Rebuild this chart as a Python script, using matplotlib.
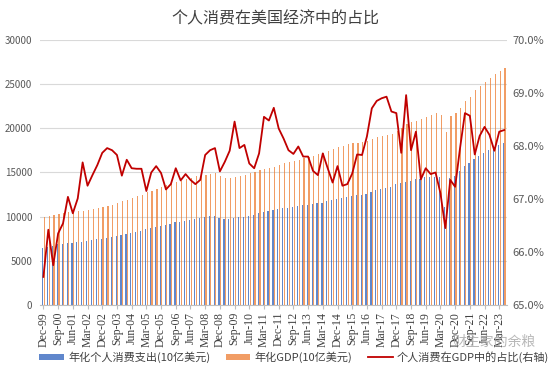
# -*- coding: utf-8 -*-
from matplotlib import pyplot as plt
from matplotlib.ticker import FuncFormatter
import numpy as np

plt.rcParams['font.family'] = ['Noto Sans CJK SC', 'DejaVu Sans']

# quarterly, Dec-99 .. Jun-23
start_year = 1999
months = ["Mar", "Jun", "Sep", "Dec"]

pce = [6420, 6560, 6680, 6870, 6930, 6980, 7020, 7090, 7170, 7240,
       7310, 7440, 7500, 7590, 7660, 7800, 7925, 8030, 8140, 8260,
       8400, 8570, 8680, 8860, 8980, 9070, 9170, 9360, 9440, 9540,
       9660, 9780, 9880, 9960, 10075, 10075, 9810, 9700, 9710, 9880,
       9930, 10000, 10080, 10200, 10380, 10530, 10620, 10750, 10830, 10940,
       11030, 11090, 11200, 11270, 11350, 11430, 11530, 11580, 11770, 11880,
       12030, 12100, 12260, 12350, 12420, 12450, 12620, 12760, 13020, 13150,
       13280, 13410, 13660, 13800, 13950, 14070, 14230, 14260, 14450, 14500,
       14525, 14450, 11130, 14340, 14600, 15200, 15735, 16050, 16530, 16870,
       17170, 17550, 17850, 18110, 18370]

gdp = [9925, 10030, 10190, 10270, 10380, 10470, 10580, 10600, 10660, 10780,
       10880, 10980, 11060, 11170, 11300, 11550, 11750, 11900, 12100, 12300,
       12500, 12750, 12900, 13150, 13320, 13600, 13750, 13870, 14040, 14220,
       14340, 14560, 14715, 14707, 14865, 14899, 14609, 14430, 14382, 14450,
       14650, 14765, 14980, 15100, 15309, 15352, 15520, 15648, 15842, 16050,
       16207, 16330, 16420, 16610, 16700, 16890, 17134, 17160, 17463, 17650,
       17852, 17950, 18220, 18300, 18350, 18420, 18612, 18790, 18975, 19140,
       19298, 19400, 19750, 20050, 20492, 20680, 20850, 21010, 21300, 21550,
       21700, 21510, 19620, 21395, 21700, 22340, 23090, 23580, 24340, 24790,
       25240, 25660, 26150, 26520, 26790]

ratio = [65.53, 66.42, 65.75, 66.35, 66.54, 67.04, 66.73, 67.01, 67.69, 67.25,
         67.45, 67.64, 67.87, 67.96, 67.92, 67.83, 67.44, 67.74, 67.58, 67.57,
         67.57, 67.15, 67.50, 67.62, 67.49, 67.18, 67.28, 67.58, 67.35, 67.47,
         67.36, 67.28, 67.36, 67.83, 67.92, 67.96, 67.52, 67.70, 67.91, 68.46,
         67.96, 68.02, 67.67, 67.58, 67.86, 68.55, 68.48, 68.72, 68.33, 68.14,
         67.92, 67.85, 67.99, 67.80, 67.80, 67.53, 67.45, 67.86, 67.58, 67.31,
         67.62, 67.25, 67.28, 67.48, 67.84, 67.83, 68.18, 68.71, 68.85, 68.90,
         68.93, 68.65, 68.62, 67.87, 68.96, 67.92, 68.27, 67.37, 67.58, 67.47,
         67.50, 67.11, 66.45, 67.36, 67.23, 67.96, 68.62, 68.57, 67.84, 68.19,
         68.36, 68.21, 67.91, 68.27, 68.30]

labels = []
for i in range(len(ratio)):
    q = (3 + i) % 4
    y = start_year + (3 + i) // 4
    labels.append(months[q] + "-" + str(y)[2:])


def main():
  x = np.arange(len(ratio))
  fig = plt.figure(figsize=(5.5, 3.7), dpi=100)
  ax = fig.add_axes([0.0736, 0.1757, 0.8484, 0.7163])

  ax.bar(x - 0.17, pce, width=0.24, color="#4472C4", alpha=0.85,
         label="年化个人消费支出(10亿美元)", zorder=2)
  ax.bar(x + 0.17, gdp, width=0.24, color="#ED7D31", alpha=0.75,
         label="年化GDP(10亿美元)", zorder=2)
  ax.set_ylim(0, 30000)
  ax.set_xlim(-0.6, len(ratio) - 0.4)
  ax.set_yticks(range(0, 30001, 5000))
  ax.yaxis.grid(True, color="#D9D9D9", linewidth=0.8)
  ax.set_axisbelow(True)
  for s in ["top", "left", "right"]:
    ax.spines[s].set_visible(False)
  ax.spines["bottom"].set_color("#BFBFBF")
  ax.tick_params(axis="y", length=0, labelsize=7, labelcolor="#595959", pad=6)
  ax.set_xticks(x[::3])
  ax.set_xticklabels(labels[::3], rotation=90, family="Liberation Serif", fontsize=8.5, color="#404040")
  ax.tick_params(axis="x", length=3, color="#BFBFBF", pad=2)

  ax2 = ax.twinx()
  ax2.plot(x, ratio, color="#C00000", linewidth=1.3, label="个人消费在GDP中的占比(右轴)")
  ax2.set_ylim(65, 70)
  ax2.set_yticks([65, 66, 67, 68, 69, 70])
  ax2.yaxis.set_major_formatter(FuncFormatter(lambda v, p: "%.1f%%" % v))
  ax2.tick_params(axis="y", length=0, labelsize=8, labelcolor="#595959", pad=4)
  for s in ["top", "left", "right", "bottom"]:
    ax2.spines[s].set_visible(False)

  fig.suptitle("个人消费在美国经济中的占比", x=0.5, y=0.972, fontsize=11.5, color="#404040")

  h1, l1 = ax.get_legend_handles_labels()
  h2, l2 = ax2.get_legend_handles_labels()
  fig.legend(h1 + h2, l1 + l2, loc="center", bbox_to_anchor=(0.535, 0.035), ncol=3,
             frameon=False, fontsize=8, handlelength=2.2, handleheight=0.5,
             columnspacing=1.4, handletextpad=0.4, labelcolor="#404040")

  # 水印
  fig.text(0.975, 0.075, "财主家的余粮", ha="right", va="center", fontsize=10,
           color="#A6A6A6", alpha=0.8)

  fig.savefig("out.png", dpi=100)
  plt.close()


if __name__ == '__main__':
    main()
